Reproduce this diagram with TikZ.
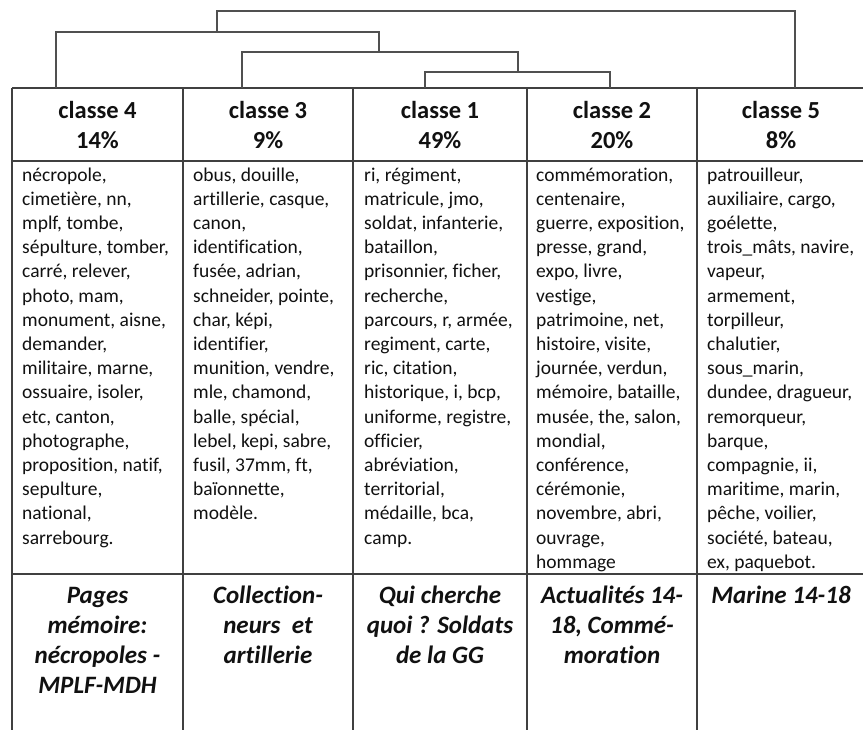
\documentclass[tikz,border=0pt]{standalone}
\usepackage{fontspec}
\setmainfont{Carlito}[Ligatures={NoCommon}]
\definecolor{linec}{HTML}{404040}
\definecolor{dendc}{HTML}{505050}
\definecolor{txtc}{HTML}{111111}
\begin{document}
\begin{tikzpicture}[x=1pt,y=-1pt]
\tikzset{
 gridline/.style={draw=linec, line width=1.4pt},
 dendro/.style={draw=dendc, line width=1.2pt},
 headtxt/.style={anchor=north, align=center, inner sep=0pt, text=txtc, font=\fontsize{24.5}{30}\selectfont\bfseries},
 bodytxt/.style={anchor=north west, align=left, inner sep=0pt, text=txtc, font=\fontsize{19.5}{24.2}\selectfont},
 foottxt/.style={anchor=north, align=center, inner sep=0pt, text=txtc, font=\fontsize{25}{30}\selectfont\bfseries\itshape},
}
\useasboundingbox (0,0) rectangle (863,730);
\fill[white] (0,0) rectangle (863,730);
% table grid
\foreach \xx in {12,183,353,527,697} {\draw[gridline] (\xx,88) -- (\xx,730);}
\foreach \yy in {88,161,574} {\draw[gridline] (12,\yy) -- (863,\yy);}
% dendrogram anchor points on the table top
\coordinate (d4) at (56,88);
\coordinate (d3) at (242,88);
\coordinate (d1) at (425,88);
\coordinate (d2) at (610,88);
\coordinate (d5) at (795,88);
\coordinate (m12) at (518,72);
\coordinate (m312) at (379,52);
\coordinate (m4312) at (217,32);
\draw[dendro] (d1) |- (m12) -| (d2);
\draw[dendro] (d3) |- (m312) -| (m12);
\draw[dendro] (d4) |- (m4312) -| (m312);
\draw[dendro] (m4312) |- (380,11) coordinate (top) -| (d5);
% headers
\node[headtxt] (h4) at (97.5,97) {\strut classe 4\\14\%};
\node[headtxt] (h3) at (268,97) {\strut classe 3\\9\%};
\node[headtxt] (h1) at (440,97) {\strut classe 1\\49\%};
\node[headtxt] (h2) at (612,97) {\strut classe 2\\20\%};
\node[headtxt] (h5) at (781,97) {\strut classe 5\\8\%};
% bodies
\node[bodytxt] (b4) at (22,164) {\strut nécropole,\\cimetière, nn,\\mplf, tombe,\\sépulture, tomber,\\carré, relever,\\photo, mam,\\monument, aisne,\\demander,\\militaire, marne,\\ossuaire, isoler,\\etc, canton,\\photographe,\\proposition, natif,\\sepulture,\\national,\\sarrebourg.};
\node[bodytxt] (b3) at (193,164) {\strut obus, douille,\\artillerie, casque,\\canon,\\identification,\\fusée, adrian,\\schneider, pointe,\\char, képi,\\identifier,\\munition, vendre,\\mle, chamond,\\balle, spécial,\\lebel, kepi, sabre,\\fusil, 37mm, ft,\\baïonnette,\\modèle.};
\node[bodytxt] (b1) at (364,164) {\strut ri, régiment,\\matricule, jmo,\\soldat, infanterie,\\bataillon,\\prisonnier, ficher,\\recherche,\\parcours, r, armée,\\regiment, carte,\\ric, citation,\\historique, i, bcp,\\uniforme, registre,\\officier,\\abréviation,\\territorial,\\médaille, bca,\\camp.};
\node[bodytxt] (b2) at (536,164) {\strut commémoration,\\centenaire,\\guerre, exposition,\\presse, grand,\\expo, livre,\\vestige,\\patrimoine, net,\\histoire, visite,\\journée, verdun,\\mémoire, bataille,\\musée, the, salon,\\mondial,\\conférence,\\cérémonie,\\novembre, abri,\\ouvrage,\\hommage};
\node[bodytxt] (b5) at (707,164) {\strut patrouilleur,\\auxiliaire, cargo,\\goélette,\\trois\_mâts, navire,\\vapeur,\\armement,\\torpilleur,\\chalutier,\\sous\_marin,\\dundee, dragueur,\\remorqueur,\\barque,\\compagnie, ii,\\maritime, marin,\\pêche, voilier,\\société, bateau,\\ex, paquebot.};
% footers
\node[foottxt] (f4) at (97.5,582) {\strut Pages\\mémoire:\\nécropoles -\\MPLF-MDH};
\node[foottxt] (f3) at (268,582) {\strut Collection-\\neurs\ \ et\\artillerie};
\node[foottxt] (f1) at (440,582) {\strut Qui cherche\\quoi ? Soldats\\de la GG};
\node[foottxt] (f2) at (612,582) {\strut Actualités 14-\\18, Commé-\\moration};
\node[foottxt] (f5) at (781,582) {\strut Marine 14-18};
\end{tikzpicture}
\end{document}
